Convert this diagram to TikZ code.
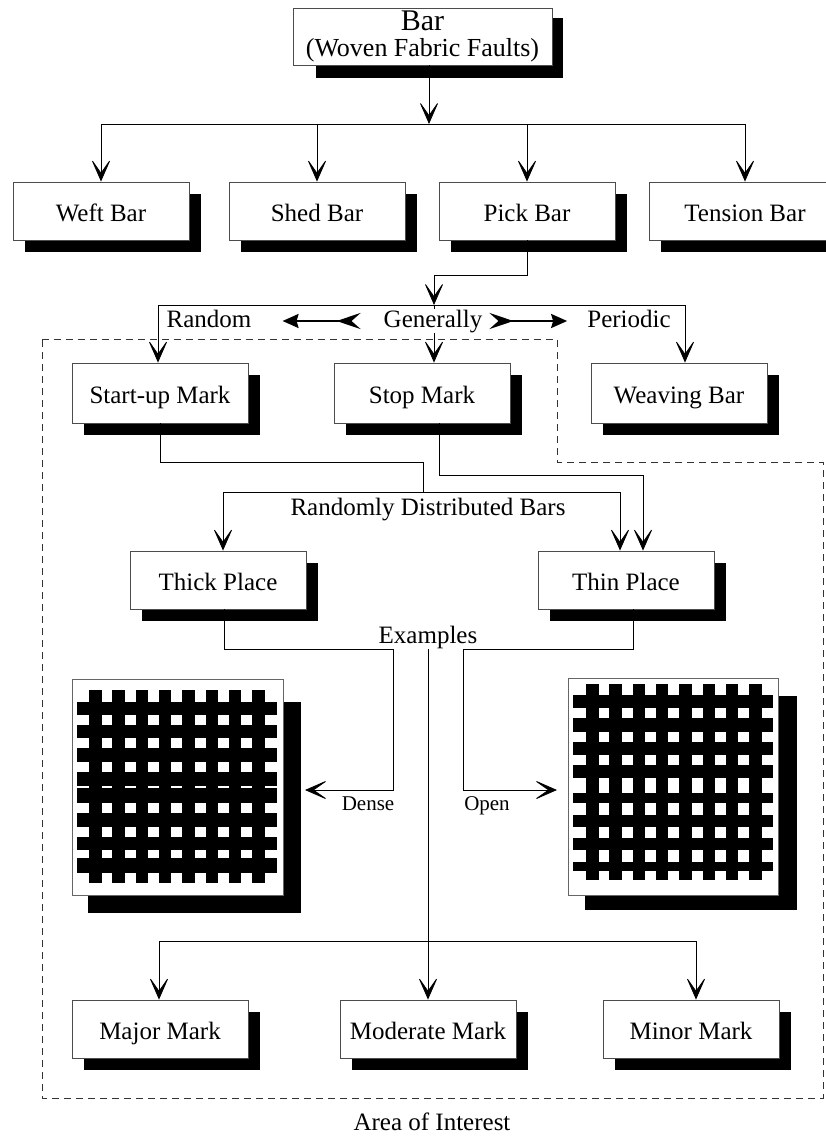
\documentclass[tikz,border=0pt]{standalone}
\usepackage{fontspec}
\setmainfont{Liberation Serif}
\usetikzlibrary{arrows.meta,shadows,calc}
\begin{document}
\begin{tikzpicture}[x=1pt,y=-1pt,
  box/.style={draw=black!70, line width=0.8pt, fill=white, minimum width=176pt,
    minimum height=58pt, inner sep=0pt, text height=22pt, text depth=2pt,
    font=\fontsize{25}{28}\selectfont,
    drop shadow={shadow xshift=12pt, shadow yshift=-12pt, fill=black, opacity=1, draw=none}},
  conn/.style={line width=0.8pt, draw=black},
  arr/.style={conn, -{Stealth[length=24pt,width=21pt,inset=15pt]}},
  lbl/.style={font=\fontsize{25}{28}\selectfont, inner sep=1pt, text height=17pt, text depth=5pt},
  lblw/.style={lbl, fill=white},
  small/.style={font=\fontsize{21}{24}\selectfont, inner sep=1pt, text height=14pt, text depth=4pt},
  aoi/.style={draw=black!80, line width=0.8pt, dash pattern=on 7pt off 5pt},
  gen/.style={line width=2pt, {Stealth[reversed,length=24pt,width=16pt,inset=9pt]}-{Stealth[length=16pt,width=14pt,inset=2pt]}},
  fab/.style={draw=black!60, line width=0.8pt, fill=white},
]
\useasboundingbox (0,0) rectangle (825,1137);

% area of interest
\draw[aoi] (42,339) -- (557,339) -- (557,462) -- (823,462) -- (823,1098) -- (42,1098) -- cycle;
\node[lbl] (aoilbl) at (432,1124) {Area of Interest};

% top box
\fill (316,18) rectangle (563,78);
\node[draw=black!70, line width=0.8pt, fill=white, minimum width=259pt, minimum height=57pt,
  inner sep=0pt] (top) at (422.5,36.5) {};
\node[font=\fontsize{30}{30}\selectfont, inner sep=0pt, text height=20pt, text depth=0pt] (toptitle) at (422.5,21) {Bar};
\node[font=\fontsize{26}{26}\selectfont, inner sep=0pt, text height=19pt, text depth=5pt] (topsub) at (422.5,50) {(Woven Fabric Faults)};

% first row
\node[box] (weft) at (101,211) {Weft Bar};
\node[box] (shed) at (317,211) {Shed Bar};
\node[box] (pick) at (527,211) {Pick Bar};
\node[box, minimum width=192pt] (tension) at (745,211) {Tension Bar};

% second row
\node[box, minimum height=60pt] (startup) at (160,393) {Start-up Mark};
\node[box, minimum height=60pt] (stop) at (422,393) {Stop Mark};
\node[box, minimum height=60pt] (weaving) at (679,393) {Weaving Bar};

% third row
\node[box] (thick) at (218,580) {Thick Place};
\node[box] (thin) at (626,580) {Thin Place};

% bottom row
\node[box] (major) at (160,1029) {Major Mark};
\node[box] (moderate) at (428,1029) {Moderate Mark};
\node[box] (minor) at (691,1029) {Minor Mark};

% fabrics
\fill (88,702) rectangle (301,913);
\draw[fab] (72,679) rectangle (283,895);
\foreach \i in {0,...,7} \fill ({89+23.3*\i},690) rectangle ++(12.5,193);
\foreach \a/\b in {702/715,725/738,748/762,772/786,788/803,813/827,837/850,858/873}
  \fill (77,\a) rectangle (277,\b);
\coordinate (fabL) at (305,790);

\fill (585,696) rectangle (797,910);
\draw[fab] (568,678) rectangle (778,895);
\foreach \i in {0,...,7} \fill ({586+23.3*\i},684) rectangle ++(12.5,196);
\foreach \a/\b in {695/708,718/732,742/755,765/778,793/803,815/827,838/850,862/871}
  \fill (573,\a) rectangle (773,\b);
\coordinate (fabR) at (557,790);

% connectors: top level
\coordinate (j1) at (429,124);
\draw[arr] (top.south -| j1) -- (j1);
\draw[conn] (weft.north |- j1) -- (tension.north |- j1);
\draw[arr] (weft.north |- j1) -- (weft.north);
\draw[arr] (shed.north |- j1) -- (shed.north);
\draw[arr] (pick.north |- j1) -- (pick.north);
\draw[arr] (tension.north |- j1) -- (tension.north);

% pick bar branch
\coordinate (k2) at (434,275);
\coordinate (j2) at (434,305);
\coordinate (r0) at (158,305);
\coordinate (p0) at (685,305);
\draw[arr] (pick.south) |- (k2) -- (j2);
\draw[conn] (r0) -- (p0);
\draw[arr] (r0) -- (r0 |- startup.north);
\draw[arr] (j2) -- (j2 |- stop.north);
\draw[arr] (p0) -- (p0 |- weaving.north);

\node[lbl] (random) at (209,321) {Random};
\node[lblw] (generally) at (433,321) {Generally};
\node[lbl] (periodic) at (629,321) {Periodic};
\draw[gen] ($(generally.west)+(-22,0)$) -- ($(random.east)+(30,0)$);
\draw[gen] ($(generally.east)+(6,0)$) -- ($(periodic.west)+(-19,0)$);

% randomly distributed bars
\coordinate (m1) at (423,462);
\coordinate (t0) at (223,492);
\coordinate (t1) at (620,492);
\coordinate (m2) at (643,475);
\draw[conn] (startup.south) |- (m1) -- (m1 |- t0);
\draw[conn] (t0) -- (t1);
\draw[arr] (t0) -- (t0 |- thick.north);
\draw[arr] (t1) -- (t1 |- thin.north);
\draw[arr] ($(stop.south)+(17,0)$) |- (m2) -- (m2 |- thin.north);
\node[lbl] (rdb) at (428,509) {Randomly Distributed Bars};

% examples
\node[lbl] (examples) at (428,637) {Examples};
\draw[arr] ($(thick.south)+(6,0)$) |- (393,649) |- (fabL);
\draw[arr] ($(thin.south)+(7,0)$) |- (463,649) |- (fabR);
\node[small] (dense) at (368,805) {Dense};
\node[small] (open) at (487,805) {Open};

% marks
\coordinate (b0) at (159,941);
\coordinate (b1) at (696,941);
\draw[arr] (examples.south) -- (examples.south |- moderate.north);
\draw[conn] (b0) -- (b1);
\draw[arr] (b0) -- (b0 |- major.north);
\draw[arr] (b1) -- (b1 |- minor.north);
\end{tikzpicture}
\end{document}
